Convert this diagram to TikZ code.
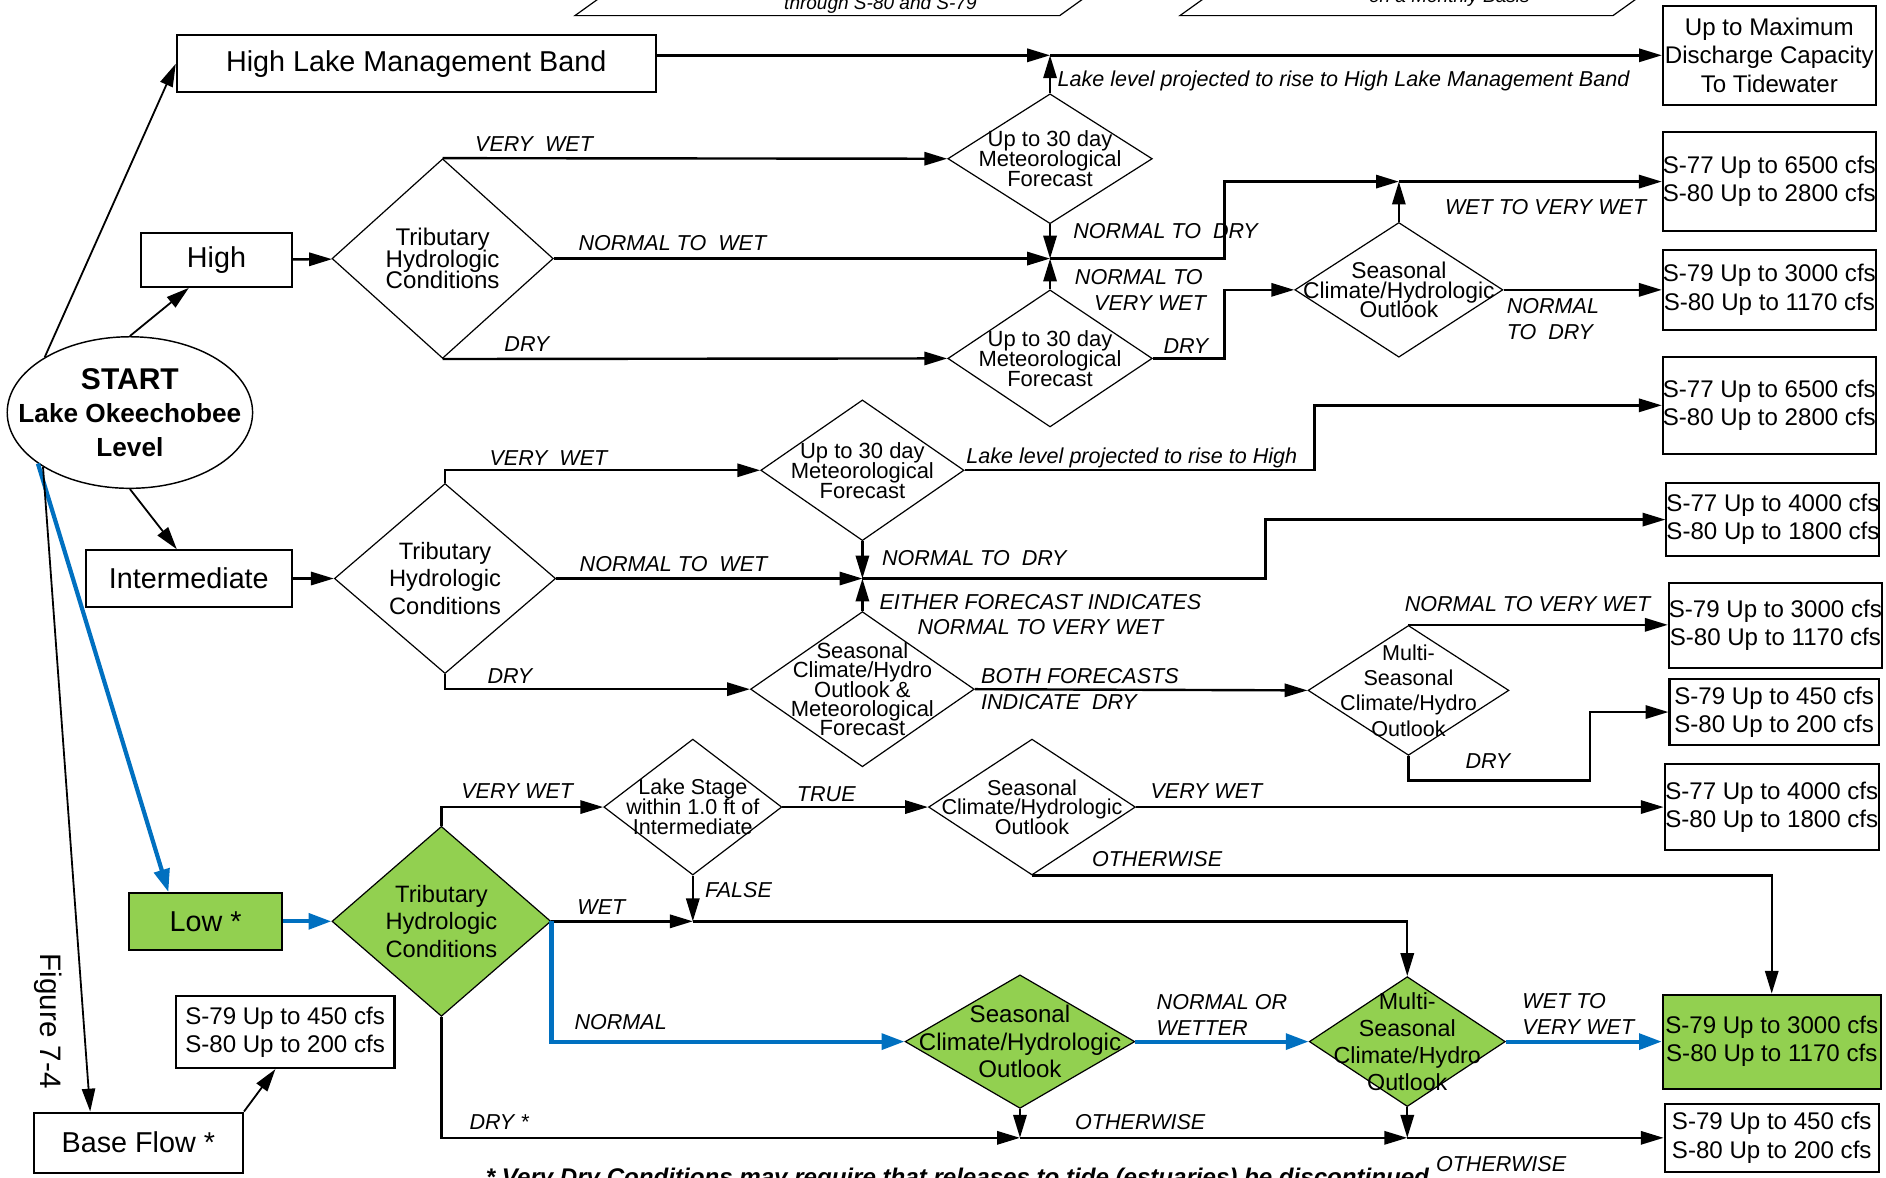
\documentclass[tikz,border=0pt]{standalone}
\usepackage{fontspec}
\setmainfont{Liberation Sans}
\usepackage{tikz}
\usetikzlibrary{arrows.meta}
\usetikzlibrary{shapes.geometric}

\definecolor{lgreen}{RGB}{146,208,80}
\definecolor{lblue}{RGB}{0,112,192}
\newcommand{\dfs}[2]{\fontsize{#1}{#2}\selectfont\lineskiplimit=-10pt\relax}

\tikzset{
  box/.style={draw, line width=0.17mm, inner sep=0pt, align=center, font=\dfs{5.7}{6.7}},
  bigbox/.style={box, font=\dfs{6.8}{8}},
  dec/.style={draw, shape=diamond, inner sep=0pt, line width=0.1mm},
  lbl/.style={font=\dfs{5.1}{6.1}\itshape, inner sep=0pt},
  arr/.style={-{Triangle[length=1.9mm,width=1.1mm]}, line width=0.2mm},
  sarr/.style={-{Triangle[length=1.9mm,width=1.1mm]}, line width=0.15mm},
  barr/.style={-{Triangle[length=1.9mm,width=1.3mm]}, line width=0.35mm, draw=lblue}
}

\begin{document}
\begin{tikzpicture}[x=0.1mm, y=-0.1mm]
    \useasboundingbox (0,0) rectangle (1568,979);
    \clip (0,0) rectangle (1568,979);
    % cut-off notes at the top
    \draw[line width=0.1mm] (538,-30) -- (478,13) -- (881,13) -- (941,-30);
    \draw[line width=0.1mm] (1041,-30) -- (981,13) -- (1341,13) -- (1401,-30);
    \node[font=\dfs{4.5}{5}\itshape] (pn1) at (732,4) {through S-80 and S-79};
    \node[font=\dfs{4.5}{5}\itshape] (pn2) at (1205,-2) {on a Monthly Basis};

    \node[draw, ellipse, line width=0.12mm, minimum width=20.4mm, minimum height=12.6mm, inner sep=0pt,
      label={[align=center, font=\bfseries\dfs{6.2}{7.9}]center:{\dfs{7.1}{8}START}\\Lake Okeechobee\\Level}] (start) at (108,343) {};
    \node[bigbox, minimum width=39.8mm, minimum height=4.7mm] (hlmb) at (346,53) {High Lake Management Band};
    \node[bigbox, minimum width=12.5mm, minimum height=4.5mm] (high) at (180,216) {High};
    \node[bigbox, minimum width=17.1mm, minimum height=4.7mm] (inter) at (157,481) {Intermediate};
    \node[bigbox, fill=lgreen, minimum width=12.7mm, minimum height=4.7mm] (low) at (171,766) {Low *};
    \node[bigbox, minimum width=17.4mm, minimum height=5mm] (base) at (115,950) {Base Flow *};
    \node[box, minimum width=18.2mm, minimum height=6mm] (bfout) at (237,858) {S-79 Up to 450 cfs\\S-80 Up to 200 cfs};
    \node[rotate=-90, font=\dfs{7}{8}] (fig) at (40,849) {Figure 7-4};

    % high
    \node[dec, minimum width=18.4mm, minimum height=16.6mm,
      label={[align=center, font=\dfs{5.7}{5.1}]center:Tributary\\Hydrologic\\Conditions}] (trib1) at (368,215) {};
    \node[dec, minimum width=17mm, minimum height=10.8mm,
      label={[align=center, font=\dfs{5.2}{4.7}]center:Up to 30 day\\Meteorological\\Forecast}] (met1) at (873,132) {};
    \node[dec, minimum width=17mm, minimum height=11.4mm,
      label={[align=center, font=\dfs{5.2}{4.7}]center:Up to 30 day\\Meteorological\\Forecast}] (met2) at (873,298) {};
    \node[dec, minimum width=17.3mm, minimum height=11.2mm,
      label={[align=center, font=\dfs{5.4}{4.6}]center:Seasonal\\Climate/Hydrologic\\Outlook}] (seas1) at (1163,241) {};
    \coordinate (j1) at (873,46);
    \coordinate (j2) at (873,215);
    \coordinate (j3) at (1163,151);

    % intermediate
    \node[dec, minimum width=18.4mm, minimum height=15.8mm,
      label={[align=center, font=\dfs{5.6}{6.5}]center:Tributary\\Hydrologic\\Conditions}] (trib2) at (370,481) {};
    \node[dec, minimum width=16.9mm, minimum height=11.7mm,
      label={[align=center, font=\dfs{5.2}{4.7}]center:Up to 30 day\\Meteorological\\Forecast}] (met3) at (717,391) {};
    \node[dec, minimum width=18.6mm, minimum height=12.9mm,
      label={[align=center, font=\dfs{5.2}{4.6}]center:Seasonal\\Climate/Hydro\\Outlook \&\\Meteorological\\Forecast}] (comb) at (717,573) {};
    \node[dec, minimum width=16.7mm, minimum height=10.8mm,
      label={[align=center, font=\dfs{5.1}{6}]center:Multi-\\Seasonal\\Climate/Hydro\\Outlook}] (multi1) at (1171,574) {};
    \coordinate (j4) at (717,481);

    % low
    \node[dec, fill=lgreen, minimum width=18.2mm, minimum height=15.8mm,
      label={[align=center, font=\dfs{5.6}{6.5}]center:Tributary\\Hydrologic\\Conditions}] (trib3) at (367,766) {};
    \node[dec, minimum width=14.8mm, minimum height=11.3mm,
      label={[align=center, font=\dfs{5.1}{4.7}]center:Lake Stage\\within 1.0 ft of\\Intermediate}] (lake) at (576,671) {};
    \node[dec, minimum width=17.2mm, minimum height=11.3mm,
      label={[align=center, font=\dfs{5.1}{4.6}]center:Seasonal\\Climate/Hydrologic\\Outlook}] (seas2) at (858,671) {};
    \node[dec, fill=lgreen, minimum width=19.1mm, minimum height=11.1mm,
      label={[align=center, font=\dfs{5.7}{6.5}]center:Seasonal\\Climate/Hydrologic\\Outlook}] (seas3) at (848,866) {};
    \node[dec, fill=lgreen, minimum width=16.3mm, minimum height=10.8mm,
      label={[align=center, font=\dfs{5.5}{6.4}]center:Multi-\\Seasonal\\Climate/Hydro\\Outlook}] (multi2) at (1170,866) {};
    \coordinate (j5) at (576,766);
    \coordinate (j6) at (848,946);
    \coordinate (j7) at (1170,946);

    % release boxes
    \node[box, minimum width=17.7mm, minimum height=8.2mm, font=\dfs{5.7}{6.8}] (maxbox) at (1471,46) {Up to Maximum\\Discharge Capacity\\To Tidewater};
    \node[box, minimum width=17.7mm, minimum height=8.2mm] (s77a) at (1471,151) {S-77 Up to 6500 cfs\\S-80 Up to 2800 cfs};
    \node[box, minimum width=17.7mm, minimum height=6.7mm] (s79a) at (1471,241) {S-79 Up to 3000 cfs\\S-80 Up to 1170 cfs};
    \node[box, minimum width=17.7mm, minimum height=8.1mm] (s77b) at (1471,337) {S-77 Up to 6500 cfs\\S-80 Up to 2800 cfs};
    \node[box, minimum width=17.6mm, minimum height=6.1mm] (s77c) at (1474,432) {S-77 Up to 4000 cfs\\S-80 Up to 1800 cfs};
    \node[box, minimum width=17.7mm, minimum height=7mm] (s79b) at (1476,520) {S-79 Up to 3000 cfs\\S-80 Up to 1170 cfs};
    \node[box, minimum width=17.4mm, minimum height=5.5mm] (s79c) at (1475,592) {S-79 Up to 450 cfs\\S-80 Up to 200 cfs};
    \node[box, minimum width=17.8mm, minimum height=7.1mm] (s77d) at (1473,671) {S-77 Up to 4000 cfs\\S-80 Up to 1800 cfs};
    \node[box, fill=lgreen, minimum width=18.1mm, minimum height=7.8mm] (s79d) at (1473,866) {S-79 Up to 3000 cfs\\S-80 Up to 1170 cfs};
    \node[box, minimum width=17.8mm, minimum height=5.7mm] (s79e) at (1473,946) {S-79 Up to 450 cfs\\S-80 Up to 200 cfs};

    % from start
    \draw[sarr] (start.147) -- (hlmb.west);
    \draw[sarr] (start.north) -- ([xshift=-2.3mm]high.south);
    \draw[sarr] (start.south) -- ([xshift=-1mm]inter.north);
    \draw[barr] (start.209) -- ([xshift=-3.1mm]low.north);
    \draw[sarr] (start.212) -- ([xshift=-4mm]base.north);
    \draw[sarr] (base.north east) -- ([xshift=-0.8mm]bfout.south);

    % high connectors
    \draw[arr] (hlmb.east |- j1) -- (j1);
    \draw[arr] (j1) -- (maxbox.west);
    \draw[arr] (met1.north) -- (j1);
    \draw[arr] (high) -- (trib1);
    \draw[arr] (trib1.north) -- (met1.west);
    \draw[arr] (trib1.east) -- (j2);
    \draw[arr] (met1.south) -- (j2);
    \draw[arr] (met2.north) -- (j2);
    \draw[arr] (trib1.south) -- (met2.west);
    \draw[arr] (j2) -| (1018,151) -- (j3);
    \draw[arr] (j3) -- (s77a.west);
    \draw[arr] (seas1.north) -- (j3);
    \draw[arr] (met2.east) -| (1018,241) -- (seas1.west);
    \draw[arr] (seas1.east) -- (s79a.west);

    % intermediate connectors
    \draw[arr] (inter) -- (trib2);
    \draw[arr] (trib2.north) |- (met3.west);
    \draw[arr] (met3.east) -| (1093,337) -- (s77b.west);
    \draw[arr] (trib2.east) -- (j4);
    \draw[arr] (met3.south) -- (j4);
    \draw[arr] (comb.north) -- (j4);
    \draw[arr] (j4) -| (1052,432) -- (s77c.west);
    \draw[arr] (trib2.south) |- (comb.west);
    \draw[arr] (comb.east) -- (multi1.west);
    \draw[arr] (multi1.north) -- (multi1.north -| s79b.west);
    \draw[arr] (multi1.south) |- (1322,649) |- (s79c.west);

    % low connectors
    \draw[barr] (low) -- (trib3);
    \draw[arr] (trib3.north) |- (lake.west);
    \draw[arr] (lake.east) -- (seas2.west);
    \draw[arr] (seas2.east) -- (s77d.west);
    \draw[arr] (seas2.south) -| (s79d.north);
    \draw[arr] (lake.south) -- (j5);
    \draw[arr] (trib3.east) -- (j5);
    \draw[arr] (j5) -| (multi2.north);
    \draw[barr] (trib3.east) |- (seas3.west);
    \draw[barr] (seas3.east) -- (multi2.west);
    \draw[barr] (multi2.east) -- (s79d.west);
    \draw[arr] (trib3.south) |- (j6);
    \draw[arr] (seas3.south) -- (j6);
    \draw[arr] (j6) -- (j7);
    \draw[arr] (multi2.south) -- (j7);
    \draw[arr] (j7) -- (s79e.west);

    % labels
    \node[lbl] (lhb) at (1117,67) {Lake level projected to rise to High Lake Management Band};
    \node[lbl] (lvw1) at (444,120) {VERY\ \ WET};
    \node[lbl] (lnw1) at (559,202) {NORMAL TO\ \ WET};
    \node[lbl] (lnd1) at (969,192) {NORMAL TO\ \ DRY};
    \node[lbl] (ld1) at (438,286) {DRY};
    \node[lbl, align=left, anchor=west] (lnv1) at (893,241) {NORMAL TO\\\hspace*{1.6mm}VERY WET};
    \node[lbl] (ld2) at (986,288) {DRY};
    \node[lbl] (lwv1) at (1285,172) {WET TO VERY WET};
    \node[lbl, align=left, anchor=west] (lnd2) at (1252,265) {NORMAL\\TO\ \ DRY};
    \node[lbl] (lvw2) at (456,381) {VERY\ \ WET};
    \node[lbl] (lhi) at (941,381) {Lake level projected to rise to High};
    \node[lbl] (lnw2) at (560,469) {NORMAL TO\ \ WET};
    \node[lbl] (lnd3) at (810,464) {NORMAL TO\ \ DRY};
    \node[lbl, align=center] (lef) at (865,511) {EITHER FORECAST INDICATES\\NORMAL TO VERY WET};
    \node[lbl] (ld3) at (424,562) {DRY};
    \node[lbl, align=left, anchor=west] (lbf) at (815,573) {BOTH FORECASTS\\INDICATE\ \ DRY};
    \node[lbl] (lnv2) at (1270,502) {NORMAL TO VERY WET};
    \node[lbl] (ld4) at (1237,633) {DRY};
    \node[lbl] (lvw3) at (430,658) {VERY WET};
    \node[lbl] (ltr) at (687,660) {TRUE};
    \node[lbl] (lvw4) at (1003,658) {VERY WET};
    \node[lbl] (lot1) at (962,714) {OTHERWISE};
    \node[lbl] (lfa) at (614,740) {FALSE};
    \node[lbl] (lwe) at (500,754) {WET};
    \node[lbl] (lno) at (516,850) {NORMAL};
    \node[lbl, align=left, anchor=west] (lnow) at (961,844) {NORMAL OR\\WETTER};
    \node[lbl, align=left, anchor=west] (lwv2) at (1265,843) {WET TO\\VERY WET};
    \node[lbl] (ldr) at (415,933) {DRY *};
    \node[lbl] (lot2) at (948,933) {OTHERWISE};
    \node[lbl] (lot3) at (1248,968) {OTHERWISE};
    \node[font=\bfseries\itshape\dfs{5.7}{7}, anchor=base] (fnote) at (796,986) {* Very Dry Conditions may require that releases to tide (estuaries) be discontinued};
\end{tikzpicture}
\end{document}
